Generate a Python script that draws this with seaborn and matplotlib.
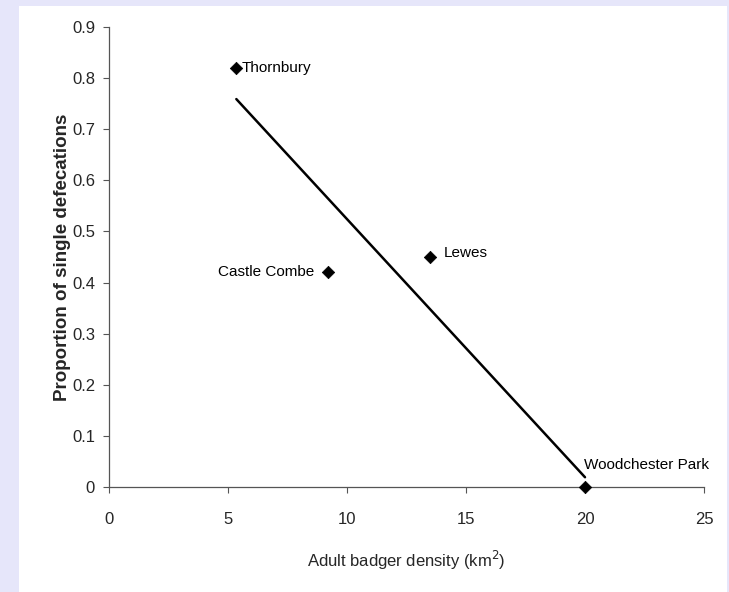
import matplotlib
matplotlib.use("Agg")
import matplotlib.pyplot as plt
import seaborn as sns
import pandas as pd
from matplotlib.patches import Rectangle

sites = ["Thornbury", "Castle Combe", "Lewes", "Woodchester Park"]
density = [5.35, 9.2, 13.5, 20.0]
proportion = [0.82, 0.42, 0.45, 0.0]
x_ticks = [0, 5, 10, 15, 20, 25]
y_ticks = [0, 0.1, 0.2, 0.3, 0.4, 0.5, 0.6, 0.7, 0.8, 0.9]
y_tick_labels = ["0", "0.1", "0.2", "0.3", "0.4", "0.5", "0.6", "0.7", "0.8", "0.9"]

df = pd.DataFrame({"site": sites, "density": density, "proportion": proportion})

sns.set_theme(style="white")
fam = ["Liberation Sans", "DejaVu Sans"]
plt.rcParams["font.family"] = fam

fig = plt.figure(figsize=(7.29, 5.92), dpi=100)
fig.patch.set_facecolor("#E6E6FA")
fig.add_artist(Rectangle((19 / 729, 0), (727 - 19) / 729, 1 - 6 / 592,
                         transform=fig.transFigure, facecolor="white",
                         edgecolor="none", zorder=0))

ax = fig.add_axes([109 / 729, 1 - 487 / 592, (704 - 109) / 729, (487 - 27) / 592])
ax.set_facecolor("none")

sns.regplot(data=df, x="density", y="proportion", ax=ax, scatter=False, ci=None,
            line_kws={"color": "black", "linewidth": 1.8})
sns.scatterplot(data=df, x="density", y="proportion", ax=ax, marker="D", s=40,
                color="black", edgecolor="black", zorder=5, legend=False,
                clip_on=False)

offsets = {
    "Thornbury": (4, 0, "left", "center"),
    "Castle Combe": (-10, 0, "right", "center"),
    "Lewes": (10, 3, "left", "center"),
    "Woodchester Park": (-1, 16, "left", "center"),
}
for s, xv, yv in zip(sites, density, proportion):
    dx, dy, ha, va = offsets[s]
    ax.annotate(s, (xv, yv), xytext=(dx, dy), textcoords="offset points",
                ha=ha, va=va, fontsize=11, color="black")

ax.set_xlim(0, 25)
ax.set_ylim(0, 0.9)
ax.set_xticks(x_ticks)
ax.set_xticklabels([str(t) for t in x_ticks], fontsize=12)
ax.set_yticks(y_ticks)
ax.set_yticklabels(y_tick_labels, fontsize=12)
ax.tick_params(axis="both", direction="out", length=4, width=0.8, color="#555555",
               left=True, bottom=True)
ax.tick_params(axis="x", pad=14)
ax.tick_params(axis="y", pad=6)

for side in ["top", "right"]:
    ax.spines[side].set_visible(False)
for side in ["left", "bottom"]:
    ax.spines[side].set_color("#555555")
    ax.spines[side].set_linewidth(0.9)

ax.set_xlabel("Adult badger density (km$^{2}$)", fontsize=12, labelpad=16)
ax.set_ylabel("Proportion of single defecations", fontsize=13.5, fontweight="bold",
              labelpad=1)

fig.savefig("out.png", dpi=100)
